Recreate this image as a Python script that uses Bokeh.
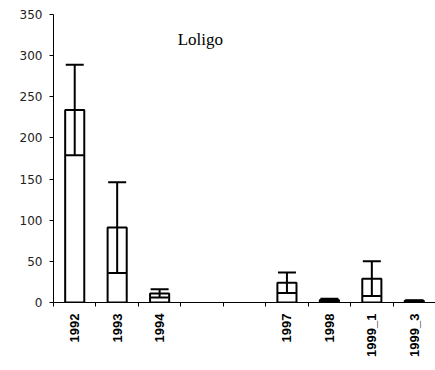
import math
from bokeh.plotting import figure
from bokeh.models import (ColumnDataSource, FixedTicker, Whisker, TeeHead, Label, Range1d)
from bokeh.embed import file_html
from bokeh.resources import INLINE

# ---- data ----
categories = ["1992", "1993", "1994", "", "", "1997", "1998", "1999_1", "1999_3"]
means = [234, 91, 11, None, None, 24, 3, 29, 2]
errors = [55, 55, 5, None, None, 12.5, 1.5, 21, 0.7]
y_ticks = [0, 50, 100, 150, 200, 250, 300, 350]
title_text = "Loligo"

n = len(categories)
xs, tops, ups, lows = [], [], [], []
for i, (m, e) in enumerate(zip(means, errors)):
    if m is None:
        continue
    xs.append(i + 0.5)
    tops.append(m)
    ups.append(m + e)
    lows.append(m - e)
src = ColumnDataSource(dict(x=xs, top=tops, upper=ups, lower=lows))

p = figure(frame_width=382, frame_height=288, output_backend="svg", toolbar_location=None,
           x_range=Range1d(0, n), y_range=Range1d(0, 350),
           min_border_left=53, min_border_right=0, min_border_top=14, min_border_bottom=60)
p.outline_line_color = None
p.xgrid.visible = False
p.ygrid.visible = False
p.background_fill_color = "white"
p.border_fill_color = "white"

p.vbar(x="x", top="top", width=0.45, source=src, fill_color="white",
       line_color="black", line_width=2)

w = Whisker(source=src, base="x", upper="upper", lower="lower", dimension="height",
            line_color="black", line_width=2, level="overlay",
            upper_head=TeeHead(size=18, line_width=2, line_color="black"),
            lower_head=TeeHead(size=18, line_width=2, line_color="black"))
p.add_layout(w)

# x axis: labels at centers, ticks at boundaries
label_pos = [i + 0.5 for i, c in enumerate(categories) if c]
xt = FixedTicker(ticks=label_pos, minor_ticks=list(range(0, n + 1)))
p.xaxis.ticker = xt
p.xaxis.major_label_overrides = {i + 0.5: c for i, c in enumerate(categories) if c}
p.xaxis.major_tick_out = 0
p.xaxis.major_tick_in = 0
p.xaxis.minor_tick_out = 4
p.xaxis.minor_tick_in = 0
p.xaxis.minor_tick_line_color = "black"
p.xaxis.axis_line_color = "black"
p.xaxis.major_label_orientation = math.pi / 2
p.xaxis.major_label_text_font = "Liberation Sans"
p.xaxis.major_label_text_font_style = "bold"
p.xaxis.major_label_text_font_size = "13px"
p.xaxis.major_label_text_color = "black"
p.xaxis.major_label_standoff = 7

p.yaxis.ticker = FixedTicker(ticks=y_ticks)
p.yaxis.minor_tick_line_color = None
p.yaxis.major_tick_out = 4
p.yaxis.major_tick_in = 0
p.yaxis.axis_line_color = "black"
p.yaxis.major_tick_line_color = "black"
p.yaxis.major_label_text_font = "DejaVu Sans"
p.yaxis.major_label_text_font_size = "12px"
p.yaxis.major_label_text_color = "#222222"
p.yaxis.major_label_standoff = 7

p.add_layout(Label(x=3.46, y=320, text=title_text, text_align="center",
                   text_baseline="middle", text_font="Liberation Serif",
                   text_font_size="17px", text_color="black"))

open("out.html", "w").write(file_html(p, INLINE))
